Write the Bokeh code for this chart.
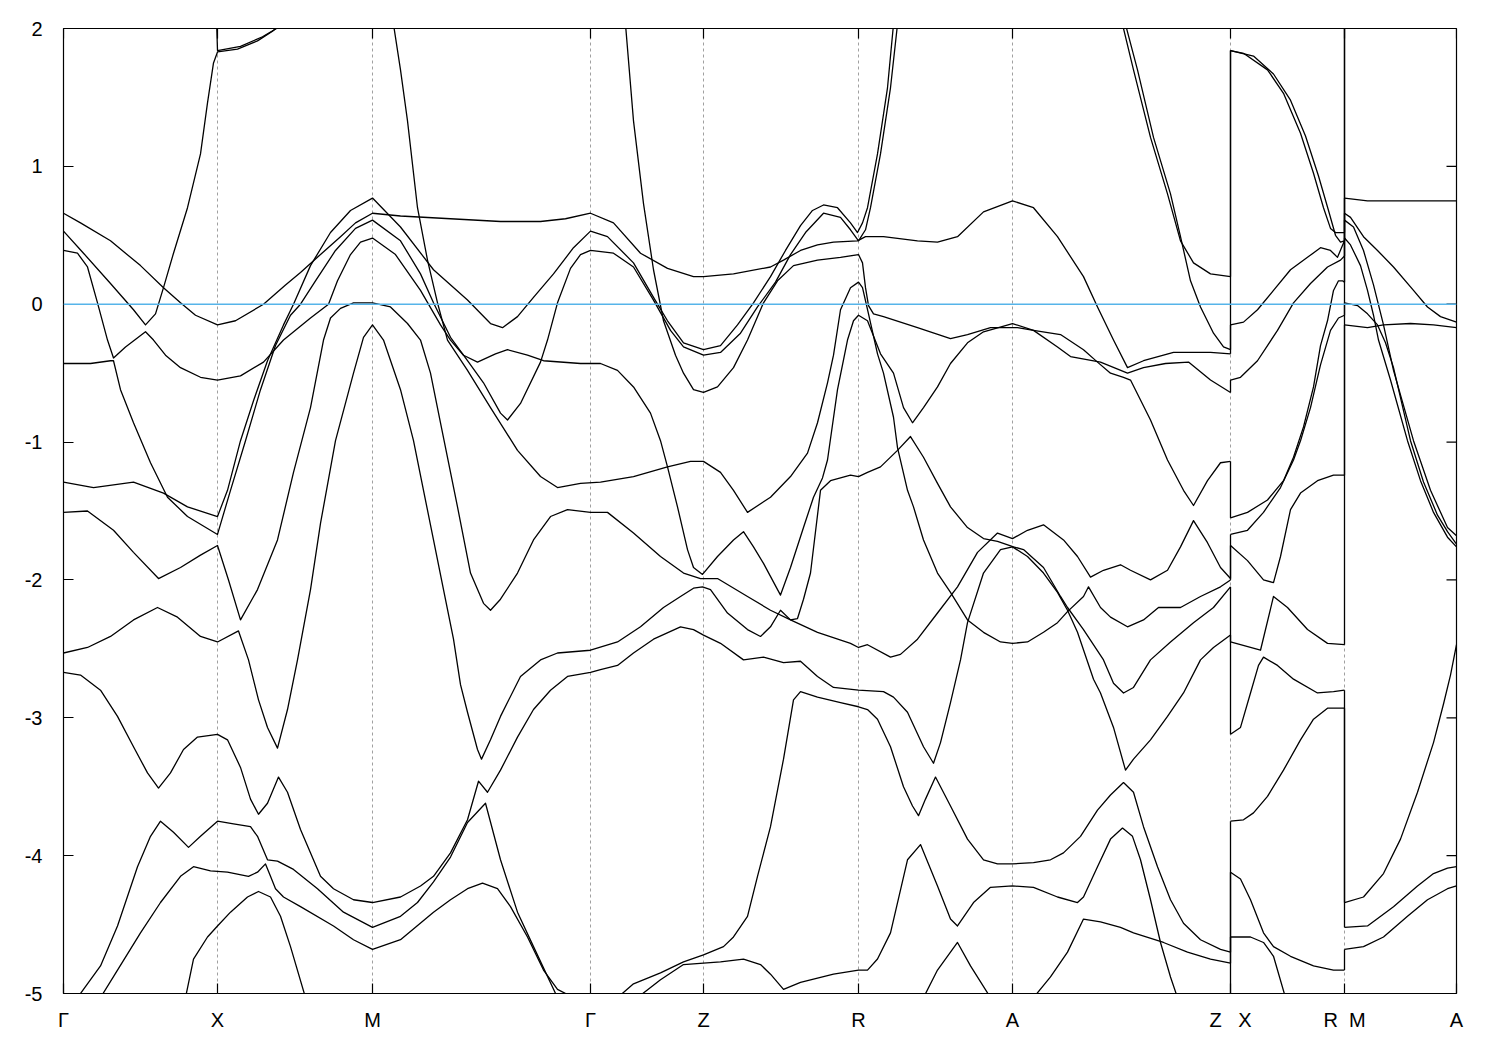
from bokeh.plotting import figure
from bokeh.models import FixedTicker, Range1d, Span
from bokeh.embed import file_html
from bokeh.resources import INLINE

# ---------------- data ----------------
K_TICKS = [0.0, 1.54, 3.09, 5.27, 6.40, 7.95, 9.49, 11.67, 12.81, 13.93]
K_LABELS = ["Γ", "X", "M", "Γ", "Z", "R", "A", "Z\u00a0\u00a0\u00a0X", "R\u00a0\u00a0M", "A"]
E_TICKS = [-5, -4, -3, -2, -1, 0, 1, 2]
E_LABELS = ["-5", "-4", "-3", "-2", "-1", "0", "1", "2"]
K_ZX = 11.67   # Z|X discontinuity
K_RM = 12.81   # R|M discontinuity

# band energies (eV) at the two discontinuities, sorted so that band n on one side meets band n on the other
zx_z = [0.20, -0.33, -0.36, -0.64, -1.14, -1.99, -2.00, -2.05, -2.40, -4.70, -4.78, -5.10]
zx_x = [1.84, 1.84, -0.15, -0.55, -1.55, -1.67, -1.75, -2.45, -3.12, -3.75, -4.12, -4.59]
rm_r = [-4.83, -2.93, -2.80, -2.47, -1.24, -0.08, 0.16, 0.35, 0.46, 0.46, 0.52]
rm_m = [-4.68, -4.52, -4.34, -0.15, 0.01, 0.48, 0.61, 0.66, 0.77, 2.30, 2.30]

# ---- Γ-X-M-Γ-Z-R-A-Z ----
band01 = [(0.00, 0.66), (0.17, 0.59), (0.47, 0.46), (0.77, 0.28), (1.00, 0.12), (1.17, 0.01), (1.32, -0.08),
          (1.54, -0.15), (1.72, -0.12), (2.00, 0.00), (2.22, 0.14), (2.37, 0.23), (2.57, 0.36), (2.77, 0.49),
          (2.92, 0.59), (3.09, 0.66), (3.37, 0.64), (3.87, 0.62), (4.37, 0.60), (4.77, 0.60), (5.02, 0.62),
          (5.27, 0.66), (5.50, 0.59), (5.77, 0.37), (6.04, 0.26), (6.30, 0.20), (6.40, 0.20), (6.70, 0.22),
          (7.07, 0.27), (7.20, 0.32), (7.37, 0.39), (7.54, 0.43), (7.70, 0.45), (7.94, 0.46), (8.02, 0.49),
          (8.20, 0.49), (8.54, 0.46), (8.74, 0.45), (8.94, 0.49), (9.20, 0.67), (9.49, 0.75), (9.70, 0.70),
          (9.94, 0.49), (10.20, 0.20), (10.34, -0.02), (10.50, -0.26), (10.64, -0.46), (10.80, -0.41),
          (11.10, -0.35), (11.47, -0.35), (11.67, -0.36)]
band02 = [(0.00, 0.53), (0.20, 0.37), (0.47, 0.15), (0.70, -0.04), (0.82, -0.15), (0.92, -0.07), (1.00, 0.12),
          (1.10, 0.37), (1.24, 0.70), (1.37, 1.09), (1.44, 1.46), (1.50, 1.75), (1.54, 1.83), (1.74, 1.85),
          (1.94, 1.91), (2.09, 1.98), (2.17, 2.03)]
band03 = [(1.53, 2.07), (1.54, 1.84), (1.77, 1.87), (1.99, 1.94), (2.20, 2.03)]
band04 = [(0.00, 0.39), (0.14, 0.37), (0.24, 0.27), (0.34, 0.01), (0.44, -0.26), (0.50, -0.39), (0.62, -0.31),
          (0.82, -0.20), (0.90, -0.26), (1.02, -0.37), (1.17, -0.46), (1.37, -0.53), (1.54, -0.55), (1.77, -0.52),
          (2.00, -0.42), (2.20, -0.26), (2.47, -0.10), (2.65, 0.00), (2.74, 0.17), (2.87, 0.36), (2.97, 0.45),
          (3.09, 0.48), (3.32, 0.36), (3.57, 0.10), (3.77, -0.15), (3.87, -0.26), (4.00, -0.37), (4.14, -0.42),
          (4.32, -0.36), (4.44, -0.33), (4.64, -0.37), (4.80, -0.41), (5.17, -0.43), (5.37, -0.43), (5.54, -0.48),
          (5.70, -0.60), (5.87, -0.79), (5.97, -0.99), (6.04, -1.18), (6.14, -1.47), (6.24, -1.78), (6.30, -1.91),
          (6.39, -1.96), (6.54, -1.83), (6.70, -1.71), (6.80, -1.65), (6.90, -1.76), (7.00, -1.88), (7.17, -2.11),
          (7.27, -1.91), (7.40, -1.62), (7.50, -1.40), (7.59, -1.26), (7.64, -1.13), (7.74, -0.62), (7.84, -0.26),
          (7.90, -0.12), (7.95, -0.08), (8.04, -0.12), (8.17, -0.36), (8.30, -0.50), (8.40, -0.75), (8.49, -0.86),
          (8.60, -0.75), (8.74, -0.60), (8.87, -0.43), (9.04, -0.28), (9.20, -0.20), (9.49, -0.14), (9.70, -0.19),
          (9.94, -0.31), (10.07, -0.38), (10.37, -0.42), (10.64, -0.50), (10.80, -0.46), (11.02, -0.43),
          (11.25, -0.42), (11.47, -0.55), (11.67, -0.64)]
band05 = [(0.00, -0.43), (0.27, -0.43), (0.47, -0.41), (0.50, -0.41), (0.57, -0.62), (0.70, -0.86), (0.87, -1.15),
          (1.04, -1.40), (1.24, -1.54), (1.54, -1.67), (1.67, -1.35), (1.82, -0.99), (1.97, -0.62), (2.12, -0.30),
          (2.27, -0.08), (2.37, 0.00), (2.52, 0.17), (2.72, 0.39), (2.92, 0.55), (3.09, 0.61), (3.37, 0.46),
          (3.57, 0.22), (3.70, 0.01), (3.87, -0.24), (4.04, -0.41), (4.20, -0.57), (4.37, -0.79), (4.44, -0.84),
          (4.57, -0.72), (4.77, -0.42), (4.84, -0.26), (4.94, 0.01), (5.07, 0.26), (5.17, 0.36), (5.27, 0.39),
          (5.50, 0.37), (5.70, 0.27), (5.90, 0.03), (6.07, -0.19), (6.20, -0.31), (6.40, -0.37), (6.57, -0.35),
          (6.77, -0.21), (6.94, -0.02), (7.12, 0.16), (7.27, 0.36), (7.42, 0.52), (7.60, 0.66), (7.77, 0.63),
          (7.87, 0.54), (7.95, 0.46), (8.02, 0.54), (8.07, 0.70), (8.17, 1.09), (8.27, 1.57), (8.34, 2.03)]
band06 = [(0.00, -1.29), (0.30, -1.33), (0.70, -1.29), (1.00, -1.37), (1.24, -1.47), (1.54, -1.54), (1.64, -1.35),
          (1.77, -0.99), (1.90, -0.70), (2.04, -0.41), (2.20, -0.15), (2.30, 0.00), (2.47, 0.28), (2.67, 0.52),
          (2.87, 0.68), (3.09, 0.77), (3.37, 0.56), (3.70, 0.25), (4.04, 0.03), (4.27, -0.14), (4.39, -0.17),
          (4.54, -0.09), (4.70, 0.05), (4.90, 0.22), (5.10, 0.41), (5.27, 0.53), (5.44, 0.49), (5.70, 0.30),
          (5.90, 0.05), (6.04, -0.12), (6.20, -0.28), (6.40, -0.33), (6.57, -0.30), (6.74, -0.15), (6.90, 0.01),
          (7.07, 0.20), (7.22, 0.39), (7.37, 0.57), (7.49, 0.68), (7.60, 0.72), (7.74, 0.70), (7.87, 0.59),
          (7.94, 0.52), (7.99, 0.59), (8.04, 0.70), (8.14, 1.09), (8.24, 1.57), (8.30, 2.03)]
band07 = [(0.00, -1.51), (0.24, -1.50), (0.50, -1.64), (0.70, -1.80), (0.95, -1.99), (1.17, -1.91), (1.37, -1.82),
          (1.54, -1.75), (1.65, -2.00), (1.77, -2.29), (1.94, -2.07), (2.14, -1.71), (2.30, -1.22), (2.47, -0.75),
          (2.60, -0.26), (2.67, -0.10), (2.77, -0.03), (2.90, 0.01), (3.09, 0.01), (3.27, -0.02), (3.44, -0.14),
          (3.57, -0.26), (3.67, -0.50), (3.77, -0.86), (3.94, -1.47), (4.07, -1.95), (4.20, -2.17), (4.27, -2.22),
          (4.37, -2.14), (4.54, -1.95), (4.70, -1.71), (4.87, -1.54), (5.04, -1.49), (5.27, -1.51), (5.44, -1.51),
          (5.70, -1.66), (5.97, -1.83), (6.20, -1.95), (6.37, -1.99), (6.54, -1.99), (6.84, -2.12), (7.07, -2.22),
          (7.27, -2.29), (7.34, -2.28), (7.40, -2.14), (7.47, -1.95), (7.57, -1.35), (7.67, -1.28), (7.87, -1.24),
          (7.95, -1.25), (8.04, -1.22), (8.17, -1.18), (8.34, -1.06), (8.47, -0.96), (8.60, -1.11), (8.74, -1.30),
          (8.87, -1.47), (9.04, -1.62), (9.20, -1.70), (9.34, -1.72), (9.50, -1.76), (9.60, -1.78), (9.80, -1.91),
          (9.97, -2.12), (10.04, -2.20), (10.20, -2.36), (10.40, -2.58), (10.50, -2.75), (10.60, -2.82),
          (10.70, -2.78), (10.87, -2.58), (11.07, -2.45), (11.30, -2.31), (11.50, -2.20), (11.67, -2.05)]
band08 = [(0.00, -2.53), (0.24, -2.49), (0.47, -2.41), (0.70, -2.29), (0.94, -2.20), (1.14, -2.27), (1.37, -2.41),
          (1.54, -2.45), (1.75, -2.37), (1.85, -2.58), (1.95, -2.87), (2.04, -3.07), (2.14, -3.22), (2.24, -2.94),
          (2.34, -2.58), (2.47, -2.07), (2.57, -1.59), (2.72, -0.99), (2.90, -0.50), (3.00, -0.24), (3.09, -0.15),
          (3.20, -0.26), (3.37, -0.62), (3.50, -0.99), (3.60, -1.35), (3.70, -1.71), (3.80, -2.07), (3.90, -2.43),
          (3.97, -2.76), (4.04, -2.96), (4.14, -3.23), (4.18, -3.30), (4.27, -3.16), (4.37, -2.99), (4.57, -2.70),
          (4.77, -2.58), (4.94, -2.53), (5.27, -2.51), (5.54, -2.45), (5.77, -2.34), (6.00, -2.20), (6.17, -2.12),
          (6.30, -2.06), (6.39, -2.05), (6.47, -2.07), (6.64, -2.24), (6.84, -2.36), (6.97, -2.41), (7.07, -2.34),
          (7.17, -2.22), (7.27, -2.29), (7.54, -2.38), (7.87, -2.46), (7.95, -2.49), (8.04, -2.47), (8.27, -2.56),
          (8.37, -2.54), (8.54, -2.43), (8.74, -2.24), (8.94, -2.05), (9.14, -1.80), (9.34, -1.66), (9.49, -1.70),
          (9.64, -1.64), (9.80, -1.60), (10.00, -1.71), (10.14, -1.83), (10.27, -1.98), (10.40, -1.93),
          (10.57, -1.89), (10.67, -1.93), (10.87, -2.00), (11.04, -1.93), (11.17, -1.76), (11.30, -1.57),
          (11.44, -1.73), (11.57, -1.91), (11.67, -1.99)]
band09 = [(0.00, -2.67), (0.17, -2.69), (0.37, -2.80), (0.54, -2.99), (0.70, -3.21), (0.84, -3.40), (0.95, -3.51),
          (1.07, -3.40), (1.20, -3.23), (1.34, -3.14), (1.54, -3.12), (1.64, -3.16), (1.77, -3.36), (1.87, -3.59),
          (1.95, -3.70), (2.04, -3.62), (2.15, -3.43), (2.24, -3.54), (2.37, -3.81), (2.57, -4.15), (2.70, -4.24),
          (2.90, -4.32), (3.09, -4.34), (3.37, -4.30), (3.57, -4.22), (3.70, -4.15), (3.87, -3.98), (4.04, -3.74),
          (4.15, -3.46), (4.24, -3.54), (4.37, -3.38), (4.54, -3.14), (4.70, -2.94), (4.87, -2.80), (5.04, -2.70),
          (5.27, -2.67), (5.37, -2.65), (5.54, -2.62), (5.70, -2.53), (5.90, -2.43), (6.17, -2.34), (6.30, -2.36),
          (6.40, -2.40), (6.57, -2.46), (6.80, -2.58), (7.00, -2.56), (7.20, -2.60), (7.37, -2.59), (7.54, -2.70),
          (7.70, -2.78), (7.95, -2.80), (8.20, -2.81), (8.30, -2.85), (8.44, -2.96), (8.60, -3.21), (8.70, -3.33),
          (8.77, -3.18), (8.87, -2.89), (8.97, -2.58), (9.04, -2.31), (9.20, -1.95), (9.37, -1.78), (9.49, -1.76),
          (9.64, -1.83), (9.80, -1.95), (9.94, -2.09), (10.04, -2.22), (10.14, -2.38), (10.30, -2.72),
          (10.37, -2.82), (10.50, -3.07), (10.62, -3.38), (10.70, -3.30), (10.87, -3.16), (11.04, -2.99),
          (11.20, -2.82), (11.37, -2.58), (11.50, -2.49), (11.67, -2.40)]
band10 = [(0.14, -5.03), (0.37, -4.80), (0.54, -4.51), (0.74, -4.08), (0.87, -3.86), (0.97, -3.75), (1.10, -3.83),
          (1.25, -3.94), (1.37, -3.86), (1.54, -3.75), (1.70, -3.77), (1.87, -3.79), (1.94, -3.86), (2.04, -4.03),
          (2.14, -4.04), (2.30, -4.10), (2.54, -4.24), (2.80, -4.41), (3.09, -4.52), (3.37, -4.44), (3.54, -4.34),
          (3.70, -4.19), (3.87, -4.01), (4.04, -3.76), (4.22, -3.62), (4.37, -4.03), (4.54, -4.41), (4.70, -4.66),
          (4.94, -5.03)]
band11 = [(0.37, -5.03), (0.54, -4.83), (0.77, -4.56), (0.97, -4.34), (1.17, -4.15), (1.30, -4.08), (1.47, -4.11),
          (1.64, -4.12), (1.85, -4.15), (1.94, -4.12), (2.02, -4.06), (2.07, -4.15), (2.12, -4.24), (2.20, -4.30),
          (2.37, -4.37), (2.70, -4.51), (2.90, -4.61), (3.09, -4.68), (3.37, -4.61), (3.70, -4.41), (3.87, -4.32),
          (4.04, -4.24), (4.19, -4.20), (4.34, -4.24), (4.47, -4.37), (4.64, -4.59), (4.80, -4.83), (4.94, -4.97),
          (5.10, -5.03)]
band12 = [(1.22, -5.03), (1.30, -4.75), (1.44, -4.59), (1.54, -4.51), (1.67, -4.41), (1.84, -4.30), (1.95, -4.26),
          (2.07, -4.30), (2.17, -4.44), (2.27, -4.66), (2.42, -5.03)]
band13 = [(3.30, 2.03), (3.37, 1.70), (3.44, 1.33), (3.54, 0.70), (3.64, 0.32), (3.74, 0.01), (3.84, -0.26),
          (4.04, -0.48), (4.27, -0.75), (4.54, -1.06), (4.77, -1.25), (4.94, -1.33), (5.17, -1.30), (5.37, -1.29),
          (5.70, -1.25), (6.04, -1.18), (6.27, -1.14), (6.40, -1.14), (6.57, -1.22), (6.70, -1.35), (6.84, -1.51),
          (7.07, -1.40), (7.27, -1.25), (7.44, -1.08), (7.54, -0.86), (7.64, -0.57), (7.70, -0.37), (7.77, -0.04),
          (7.87, 0.12), (7.95, 0.16), (7.99, 0.12), (8.05, -0.07), (8.14, -0.36), (8.20, -0.50), (8.30, -0.82),
          (8.34, -1.04), (8.44, -1.35), (8.50, -1.47), (8.60, -1.71), (8.74, -1.95), (8.87, -2.09), (9.04, -2.29),
          (9.20, -2.38), (9.37, -2.45), (9.49, -2.46), (9.64, -2.45), (9.80, -2.38), (9.94, -2.31), (10.04, -2.23),
          (10.20, -2.12), (10.25, -2.05), (10.37, -2.20), (10.47, -2.27), (10.64, -2.34), (10.80, -2.29),
          (10.95, -2.20), (11.17, -2.20), (11.37, -2.12), (11.57, -2.05), (11.67, -2.00)]
band14 = [(5.62, 2.03), (5.70, 1.33), (5.80, 0.73), (5.90, 0.25), (6.00, -0.12), (6.12, -0.37), (6.20, -0.50),
          (6.30, -0.62), (6.40, -0.64), (6.54, -0.60), (6.70, -0.46), (6.84, -0.26), (7.00, 0.01), (7.14, 0.17),
          (7.30, 0.28), (7.54, 0.32), (7.77, 0.34), (7.95, 0.36), (7.99, 0.30), (8.02, 0.12), (8.05, -0.01),
          (8.10, -0.07), (8.20, -0.09), (8.54, -0.17), (8.87, -0.25), (9.04, -0.22), (9.27, -0.17), (9.54, -0.17),
          (9.70, -0.19), (9.97, -0.22), (10.20, -0.33), (10.34, -0.42), (10.47, -0.50), (10.60, -0.53),
          (10.67, -0.55), (10.87, -0.84), (11.04, -1.13), (11.20, -1.35), (11.30, -1.46), (11.44, -1.28),
          (11.57, -1.15), (11.67, -1.14)]
band15 = [(5.54, -5.03), (5.70, -4.93), (5.97, -4.85), (6.20, -4.77), (6.40, -4.72), (6.60, -4.66), (6.70, -4.59),
          (6.84, -4.44), (6.94, -4.15), (7.07, -3.79), (7.20, -3.30), (7.30, -2.87), (7.37, -2.81), (7.54, -2.85),
          (7.77, -2.89), (7.95, -2.92), (8.04, -2.94), (8.14, -3.01), (8.27, -3.21), (8.40, -3.50), (8.49, -3.64),
          (8.55, -3.71), (8.62, -3.59), (8.72, -3.43), (8.87, -3.64), (9.04, -3.88), (9.20, -4.03), (9.34, -4.06),
          (9.49, -4.06), (9.70, -4.05), (9.87, -4.03), (10.00, -3.98), (10.17, -3.86), (10.34, -3.67),
          (10.47, -3.56), (10.60, -3.47), (10.70, -3.54), (10.80, -3.79), (10.94, -4.08), (11.07, -4.32),
          (11.20, -4.49), (11.37, -4.61), (11.57, -4.68), (11.67, -4.70)]
band16 = [(5.74, -5.03), (5.97, -4.90), (6.20, -4.79), (6.40, -4.78), (6.57, -4.77), (6.80, -4.75), (6.97, -4.79),
          (7.07, -4.86), (7.20, -4.97), (7.37, -4.92), (7.70, -4.86), (7.95, -4.83), (8.04, -4.83), (8.14, -4.75),
          (8.27, -4.56), (8.44, -4.03), (8.57, -3.92), (8.74, -4.22), (8.87, -4.46), (8.94, -4.51), (9.10, -4.34),
          (9.27, -4.23), (9.49, -4.22), (9.70, -4.23), (9.94, -4.30), (10.14, -4.34), (10.20, -4.30),
          (10.34, -4.08), (10.47, -3.88), (10.59, -3.80), (10.69, -3.86), (10.77, -4.03), (10.87, -4.32),
          (10.97, -4.63), (11.07, -4.88), (11.14, -5.03)]
band17 = [(9.70, -5.03), (9.87, -4.88), (10.04, -4.70), (10.20, -4.46), (10.37, -4.48), (10.57, -4.52),
          (10.70, -4.56), (11.00, -4.63), (11.24, -4.70), (11.47, -4.75), (11.67, -4.78)]
band18 = [(8.60, -5.03), (8.74, -4.83), (8.94, -4.63), (9.07, -4.80), (9.27, -5.03)]
band19 = [(10.59, 2.03), (10.70, 1.70), (10.87, 1.21), (11.04, 0.80), (11.17, 0.46), (11.30, 0.30), (11.47, 0.22),
          (11.67, 0.20)]
band20 = [(10.62, 2.03), (10.74, 1.70), (10.90, 1.21), (11.07, 0.80), (11.17, 0.49), (11.27, 0.17), (11.37, -0.02),
          (11.50, -0.21), (11.60, -0.31), (11.67, -0.33)]

# ---- X-R ----
xr01 = [(11.67, 1.84), (11.80, 1.82), (12.04, 1.70), (12.20, 1.53), (12.37, 1.24), (12.50, 0.95), (12.60, 0.70),
        (12.67, 0.55), (12.72, 0.52), (12.81, 0.52)]
xr02 = [(11.67, 1.84), (11.90, 1.80), (12.10, 1.67), (12.27, 1.48), (12.42, 1.22), (12.55, 0.93), (12.65, 0.68),
        (12.72, 0.50), (12.77, 0.45), (12.81, 0.46)]
xr03 = [(11.67, -0.15), (11.80, -0.13), (11.94, -0.04), (12.10, 0.10), (12.27, 0.25), (12.44, 0.34), (12.57, 0.41),
        (12.67, 0.39), (12.74, 0.34), (12.78, 0.41), (12.81, 0.46)]
xr04 = [(11.67, -0.55), (11.77, -0.53), (11.94, -0.41), (12.14, -0.19), (12.30, 0.01), (12.47, 0.15), (12.64, 0.27),
        (12.77, 0.32), (12.81, 0.35)]
xr05 = [(11.67, -1.55), (11.84, -1.51), (12.04, -1.42), (12.20, -1.28), (12.30, -1.11), (12.40, -0.89),
        (12.50, -0.60), (12.57, -0.30), (12.64, -0.12), (12.70, 0.10), (12.75, 0.17), (12.79, 0.17), (12.81, 0.16)]
xr06 = [(11.67, -1.67), (11.84, -1.64), (12.00, -1.51), (12.17, -1.33), (12.30, -1.13), (12.37, -0.99),
        (12.47, -0.75), (12.57, -0.44), (12.67, -0.19), (12.75, -0.10), (12.81, -0.08)]
xr07 = [(11.67, -1.75), (11.84, -1.86), (12.00, -2.00), (12.10, -2.02), (12.17, -1.83), (12.27, -1.49),
        (12.37, -1.37), (12.54, -1.28), (12.70, -1.24), (12.81, -1.24)]
xr08 = [(11.67, -2.45), (11.97, -2.51), (12.10, -2.12), (12.24, -2.20), (12.44, -2.36), (12.64, -2.46),
        (12.81, -2.47)]
xr09 = [(11.67, -3.12), (11.77, -3.07), (11.87, -2.82), (11.95, -2.62), (12.00, -2.56), (12.14, -2.62),
        (12.30, -2.72), (12.54, -2.82), (12.70, -2.81), (12.81, -2.80)]
xr10 = [(11.67, -3.75), (11.80, -3.74), (11.90, -3.69), (12.04, -3.57), (12.20, -3.38), (12.37, -3.16),
        (12.50, -3.01), (12.64, -2.93), (12.81, -2.93)]
xr11 = [(11.67, -4.12), (11.77, -4.17), (11.87, -4.32), (12.00, -4.56), (12.10, -4.66), (12.27, -4.73),
        (12.50, -4.80), (12.70, -4.83), (12.81, -4.83)]
xr12 = [(11.67, -4.59), (11.87, -4.59), (12.00, -4.63), (12.10, -4.73), (12.22, -5.03)]

# ---- M-A ----
ma01 = [(12.81, 0.77), (13.04, 0.75), (13.93, 0.75)]
ma02 = [(12.81, 0.66), (12.87, 0.63), (13.00, 0.49), (13.14, 0.39), (13.30, 0.27), (13.50, 0.10), (13.64, -0.02),
        (13.77, -0.09), (13.93, -0.13)]
ma03 = [(12.81, 0.61), (12.90, 0.56), (13.00, 0.39), (13.10, 0.14), (13.20, -0.15), (13.30, -0.48), (13.50, -0.99),
        (13.67, -1.35), (13.84, -1.62), (13.93, -1.68)]
ma04 = [(12.81, 0.48), (12.87, 0.43), (12.97, 0.28), (13.04, 0.10), (13.10, -0.08), (13.15, -0.26), (13.27, -0.55),
        (13.44, -0.99), (13.57, -1.28), (13.70, -1.51), (13.84, -1.69), (13.93, -1.76)]
ma05 = [(12.81, 0.01), (12.94, -0.01), (13.04, -0.07), (13.14, -0.15), (13.22, -0.28), (13.30, -0.46),
        (13.47, -0.99), (13.60, -1.29), (13.74, -1.53), (13.84, -1.65), (13.93, -1.74)]
ma06 = [(12.81, -0.15), (13.04, -0.17), (13.20, -0.15), (13.47, -0.14), (13.70, -0.15), (13.93, -0.17)]
ma07 = [(12.81, -4.34), (13.00, -4.30), (13.20, -4.13), (13.37, -3.88), (13.54, -3.54), (13.70, -3.18),
        (13.80, -2.90), (13.87, -2.69), (13.93, -2.47)]
ma08 = [(12.81, -4.52), (13.04, -4.51), (13.30, -4.37), (13.54, -4.22), (13.70, -4.13), (13.84, -4.09),
        (13.93, -4.08)]
ma09 = [(12.81, -4.68), (13.00, -4.66), (13.20, -4.59), (13.44, -4.44), (13.64, -4.32), (13.84, -4.24),
        (13.93, -4.22)]

BANDS = [band01, band02, band03, band04, band05, band06, band07, band08, band09, band10, band11, band12,
         band13, band14, band15, band16, band17, band18, band19, band20,
         xr01, xr02, xr03, xr04, xr05, xr06, xr07, xr08, xr09, xr10, xr11, xr12,
         ma01, ma02, ma03, ma04, ma05, ma06, ma07, ma08, ma09]

# ---------------- figure ----------------
FONT = "Liberation Sans"
FRAME_W, FRAME_H = 1393, 965
TICK_PX = 10

p = figure(frame_width=FRAME_W, frame_height=FRAME_H,
           x_range=Range1d(K_TICKS[0], K_TICKS[-1]), y_range=Range1d(E_TICKS[0], E_TICKS[-1]),
           output_backend="svg", toolbar_location=None,
           min_border_left=63, min_border_top=28, min_border_right=40, min_border_bottom=50,
           background_fill_color="white", border_fill_color="white")
p.outline_line_color = "black"
p.outline_line_width = 1.2

xt = FixedTicker(ticks=K_TICKS)
yt = FixedTicker(ticks=E_TICKS)

p.xaxis.ticker = xt
p.yaxis.ticker = yt
p.xaxis.major_label_overrides = {k: lab for k, lab in zip(K_TICKS, K_LABELS)}
p.yaxis.major_label_overrides = {e: lab for e, lab in zip(E_TICKS, E_LABELS)}
for ax in (p.xaxis[0], p.yaxis[0]):
    ax.axis_line_color = None
    ax.major_tick_in = TICK_PX
    ax.major_tick_out = 0
    ax.minor_tick_line_color = None
    ax.major_tick_line_color = "black"
    ax.major_tick_line_width = 1.2
    ax.major_label_text_font = FONT
    ax.major_label_text_font_size = "20px"
    ax.major_label_text_color = "black"
p.xaxis.major_label_standoff = 15
p.yaxis.major_label_standoff = 21

p.xgrid.ticker = xt
p.xgrid.grid_line_color = "#a0a0a0"
p.xgrid.grid_line_dash = "3 3"
p.xgrid.grid_line_width = 1
p.ygrid.grid_line_color = None

# mirrored inward ticks on the top and right borders (tick length converted from pixels to data units)
dy_tick = TICK_PX * (E_TICKS[-1] - E_TICKS[0]) / FRAME_H
dx_tick = TICK_PX * (K_TICKS[-1] - K_TICKS[0]) / FRAME_W
p.segment(x0=K_TICKS, y0=[E_TICKS[-1]] * len(K_TICKS), x1=K_TICKS, y1=[E_TICKS[-1] - dy_tick] * len(K_TICKS),
          line_color="black", line_width=1.2)
p.segment(x0=[K_TICKS[-1]] * len(E_TICKS), y0=E_TICKS, x1=[K_TICKS[-1] - dx_tick] * len(E_TICKS), y1=E_TICKS,
          line_color="black", line_width=1.2)

for b in BANDS:
    p.line([pt[0] for pt in b], [pt[1] for pt in b], line_color="black", line_width=1.3, line_join="round")

p.segment(x0=[K_ZX] * len(zx_z), y0=zx_z, x1=[K_ZX] * len(zx_x), y1=zx_x, line_color="black", line_width=1.3)
p.segment(x0=[K_RM] * len(rm_r), y0=rm_r, x1=[K_RM] * len(rm_m), y1=rm_m, line_color="black", line_width=1.3)

p.add_layout(Span(location=0.0, dimension="width", line_color="#56b4e9", line_width=1.6))

open("out.html", "w").write(file_html(p, INLINE))
